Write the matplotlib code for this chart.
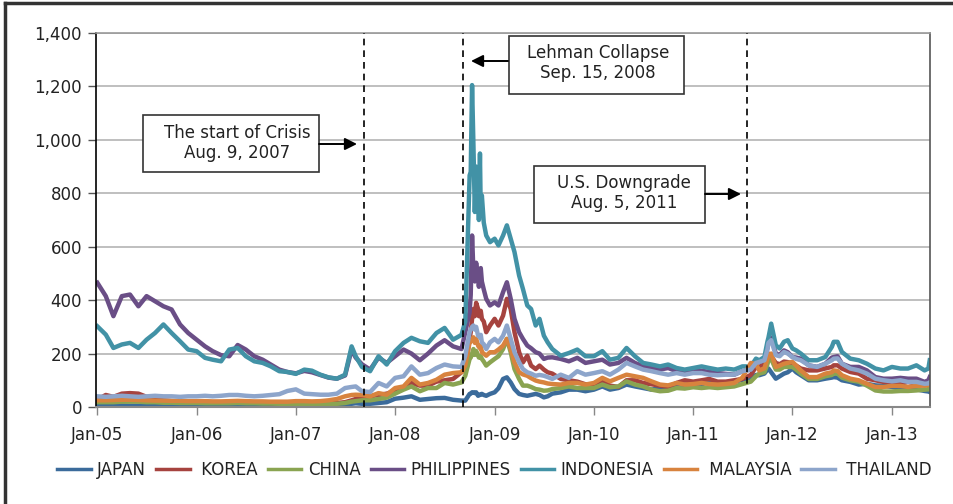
import pandas as pd
import matplotlib
matplotlib.use("Agg")
import matplotlib.pyplot as plt
import matplotlib.dates as mdates
from matplotlib.lines import Line2D
from matplotlib.patches import Rectangle
from matplotlib.ticker import FuncFormatter

plt.rcParams["font.family"] = "DejaVu Sans"

dates = pd.to_datetime([
    # 2005
    "2005-01-01", "2005-02-01", "2005-03-01", "2005-04-01", "2005-05-01", "2005-06-01",
    "2005-07-01", "2005-08-01", "2005-09-01", "2005-10-01", "2005-11-01", "2005-12-01",
    # 2006
    "2006-01-01", "2006-02-01", "2006-03-01", "2006-04-01", "2006-05-01", "2006-06-01",
    "2006-07-01", "2006-08-01", "2006-09-01", "2006-10-01", "2006-11-01", "2006-12-01",
    # 2007
    "2007-01-01", "2007-02-01", "2007-03-01", "2007-04-01", "2007-05-01", "2007-06-01",
    "2007-07-01", "2007-07-25", "2007-08-09", "2007-09-01", "2007-10-01", "2007-11-01",
    "2007-12-01",
    # 2008
    "2008-01-01", "2008-02-01", "2008-03-01", "2008-04-01", "2008-05-01", "2008-06-01",
    "2008-07-01", "2008-08-01", "2008-09-01", "2008-09-15", "2008-10-01", "2008-10-05",
    "2008-10-10", "2008-10-15", "2008-10-20", "2008-10-25", "2008-11-01", "2008-11-04",
    "2008-11-08", "2008-11-11", "2008-11-15", "2008-11-22", "2008-12-01", "2008-12-15",
    # 2009
    "2009-01-01", "2009-01-15", "2009-02-01", "2009-02-15", "2009-03-01", "2009-03-15",
    "2009-04-01", "2009-04-15", "2009-05-01", "2009-05-15", "2009-06-01", "2009-06-15",
    "2009-07-01", "2009-07-15", "2009-08-01", "2009-09-01", "2009-10-01", "2009-11-01",
    "2009-12-01",
    # 2010
    "2010-01-01", "2010-02-01", "2010-03-01", "2010-04-01", "2010-05-01", "2010-06-01",
    "2010-07-01", "2010-08-01", "2010-09-01", "2010-10-01", "2010-11-01", "2010-12-01",
    # 2011
    "2011-01-01", "2011-02-01", "2011-03-01", "2011-04-01", "2011-05-01", "2011-06-01",
    "2011-07-01", "2011-08-01", "2011-08-20", "2011-09-01", "2011-09-20", "2011-10-01",
    "2011-10-05", "2011-10-15", "2011-11-01", "2011-11-15", "2011-12-01", "2011-12-15",
    # 2012
    "2012-01-01", "2012-01-15", "2012-02-01", "2012-03-01", "2012-04-01", "2012-05-01",
    "2012-05-25", "2012-06-01", "2012-06-15", "2012-07-01", "2012-08-01", "2012-09-01",
    "2012-10-01", "2012-11-01", "2012-12-01",
    # 2013
    "2013-01-01", "2013-02-01", "2013-03-01", "2013-04-01", "2013-05-01", "2013-05-15",
    "2013-05-20",
])

japan = [
    5, 5, 6, 6, 5, 5, 5, 5, 5, 5, 4, 4,
    4, 4, 4, 5, 5, 4, 4, 4, 4, 4, 4, 4,
    4, 4, 5, 5, 5, 5, 8, 12, 14, 12, 12, 15, 18,
    31, 35, 40, 27, 30, 33, 34, 27, 24, 24, 49, 50, 55, 55, 52, 55, 42, 45, 45, 48, 49, 45, 42, 49,
    55, 70, 105, 111, 92, 67, 49, 45, 42, 45, 49, 45, 36, 40, 50, 55, 65, 65, 59,
    65, 77, 65, 71, 84, 77, 71, 65, 71, 71, 77, 84,
    81, 84, 96, 90, 90, 94, 102, 109, 120, 119, 125, 140, 144, 130, 106, 115, 125, 130,
    144, 130, 119, 100, 100, 106, 110, 112, 110, 100, 94, 84, 87, 81, 79,
    75, 69, 71, 66, 60, 58, 56,
]
korea = [
    28, 45, 38, 50, 52, 50, 38, 30, 25, 22, 20, 20,
    18, 18, 17, 16, 16, 18, 17, 16, 16, 15, 15, 15,
    15, 15, 15, 15, 15, 15, 18, 25, 30, 35, 40, 45, 50,
    60, 70, 90, 80, 80, 95, 100, 105, 130, 142, 255, 280, 330, 367, 340, 390, 367, 340, 355, 360, 330, 320, 280, 305,
    330, 305, 342, 405, 367, 280, 205, 167, 192, 155, 142, 155, 140, 130, 125, 105, 100, 95, 85,
    85, 95, 80, 75, 100, 100, 90, 85, 80, 75, 90, 100,
    95, 100, 105, 95, 95, 100, 105, 120, 150, 150, 160, 190, 200, 190, 165, 160, 170, 168,
    162, 155, 144, 137, 137, 144, 150, 156, 156, 144, 131, 125, 106, 100, 94,
    94, 87, 94, 87, 81, 82, 85,
]
china = [
    18, 18, 18, 20, 20, 20, 18, 18, 16, 16, 15, 15,
    15, 14, 14, 14, 14, 15, 14, 14, 13, 13, 12, 12,
    12, 12, 12, 12, 12, 12, 15, 20, 22, 25, 25, 30, 35,
    50, 65, 77, 59, 71, 71, 90, 84, 92, 117, 180, 185, 200, 217, 195, 210, 192, 185, 185, 190, 180, 170, 155, 167,
    180, 190, 217, 255, 205, 142, 105, 80, 80, 75, 67, 65, 61, 62, 67, 71, 77, 71, 71,
    71, 84, 74, 77, 96, 84, 77, 65, 59, 61, 71, 69,
    74, 71, 74, 71, 74, 77, 86, 95, 115, 125, 130, 160, 175, 180, 140, 140, 150, 150,
    150, 140, 125, 105, 105, 115, 120, 125, 125, 110, 100, 95, 80, 62, 58,
    58, 60, 60, 62, 65, 66, 70,
]
philippines = [
    465, 415, 340, 415, 421, 377, 415, 396, 377, 365, 309, 277,
    252, 227, 209, 194, 190, 232, 215, 190, 177, 159, 140, 131,
    126, 135, 130, 120, 110, 106, 118, 215, 185, 160, 140, 185, 165,
    190, 215, 200, 175, 200, 230, 250, 227, 217, 280, 355, 420, 642, 505, 470, 540, 480, 450, 492, 520, 470, 440, 405, 380,
    392, 380, 430, 467, 405, 330, 280, 255, 230, 220, 205, 200, 180, 185, 186, 180, 171, 184, 165,
    171, 177, 159, 165, 184, 165, 152, 146, 140, 146, 134, 127,
    134, 136, 131, 127, 124, 121, 134, 140, 165, 169, 175, 220, 250, 260, 200, 195, 212, 205,
    187, 185, 181, 156, 150, 162, 185, 187, 190, 162, 150, 150, 137, 112, 106,
    106, 109, 106, 106, 94, 100, 112,
]
indonesia = [
    302, 271, 221, 234, 240, 221, 252, 277, 309, 277, 246, 215,
    209, 184, 177, 171, 215, 221, 190, 171, 165, 152, 134, 131,
    124, 140, 136, 121, 111, 106, 121, 227, 190, 150, 134, 190, 159,
    209, 240, 259, 246, 240, 277, 296, 252, 270, 320, 867, 880, 1205, 980, 730, 900, 855, 700, 949, 720, 792, 690, 642, 617,
    630, 605, 642, 680, 630, 580, 492, 442, 380, 367, 305, 330, 267, 242, 217, 192, 202, 215, 190,
    190, 209, 177, 184, 221, 190, 165, 159, 152, 159, 146, 140,
    146, 152, 146, 140, 144, 140, 152, 152, 181, 175, 187, 244, 260, 312, 231, 219, 244, 250,
    219, 212, 200, 175, 175, 187, 225, 244, 244, 206, 181, 175, 162, 144, 137,
    150, 144, 144, 156, 137, 144, 175,
]
malaysia = [
    25, 25, 26, 27, 27, 26, 25, 24, 24, 23, 23, 22,
    22, 22, 21, 21, 22, 23, 22, 21, 21, 20, 20, 20,
    22, 22, 21, 22, 25, 30, 40, 45, 46, 45, 40, 52, 46,
    71, 77, 109, 84, 90, 102, 121, 127, 130, 155, 242, 245, 250, 261, 240, 255, 230, 225, 220, 230, 205, 200, 192, 205,
    205, 215, 230, 255, 217, 167, 130, 122, 117, 108, 99, 95, 92, 88, 86, 84, 90, 90, 84,
    90, 109, 96, 109, 121, 115, 109, 96, 84, 81, 90, 84,
    86, 90, 86, 84, 86, 90, 110, 165, 160, 137, 145, 180, 195, 200, 150, 155, 162, 165,
    169, 155, 137, 112, 112, 125, 130, 137, 135, 119, 106, 100, 87, 75, 75,
    79, 79, 75, 79, 80, 82, 87,
]
thailand = [
    40, 38, 40, 42, 40, 38, 40, 42, 40, 40, 38, 40,
    40, 42, 40, 42, 45, 45, 42, 40, 42, 45, 48, 60,
    66, 50, 48, 46, 46, 50, 71, 75, 77, 59, 56, 90, 77,
    109, 115, 152, 121, 127, 146, 159, 152, 150, 192, 280, 290, 300, 305, 290, 300, 267, 265, 260, 270, 242, 235, 217, 242,
    255, 242, 267, 305, 255, 205, 167, 142, 130, 125, 117, 120, 117, 112, 105, 121, 109, 134, 121,
    127, 134, 121, 140, 165, 152, 140, 134, 127, 121, 127, 121,
    127, 127, 121, 119, 121, 121, 134, 140, 165, 169, 175, 215, 240, 250, 194, 190, 206, 200,
    187, 180, 175, 156, 150, 162, 175, 181, 182, 162, 144, 137, 125, 106, 100,
    96, 100, 94, 94, 87, 88, 92,
]

names = ["JAPAN", " KOREA", "CHINA", "PHILIPPINES", "INDONESIA", " MALAYSIA", " THAILAND"]
colors = ["#3b6b9b", "#a6433f", "#8aa451", "#6a4e86", "#4292a6", "#d8833e", "#8da5cb"]
values = [japan, korea, china, philippines, indonesia, malaysia, thailand]
for v in values:
    assert len(v) == len(dates), (len(v), len(dates))

event_dates = ["2007-09-10", "2008-09-06", "2011-07-19"]

W, H = 954, 504
fig = plt.figure(figsize=(W / 100, H / 100), dpi=100)
ax = fig.add_axes([96 / W, 1 - 407 / H, 834 / W, 374 / H])

for name, vals, col in zip(names, values, colors):
    ax.plot(dates, vals, color=col, lw=3.2, label=name, solid_joinstyle="round")

for d in event_dates:
    ax.axvline(pd.Timestamp(d), color="black", ls=(0, (4, 3)), lw=1.2, zorder=4)

ax.set_ylim(0, 1400)
ax.set_xlim(pd.Timestamp("2004-12-27"), pd.Timestamp("2013-05-21"))
ax.set_yticks(range(0, 1401, 200))
ax.yaxis.set_major_formatter(FuncFormatter(lambda v, p: f"{int(v):,}"))
ax.set_xticks(pd.to_datetime(["2005-01-01", "2006-01-01", "2007-01-01", "2008-01-01", "2009-01-01",
                              "2010-01-01", "2011-01-01", "2012-01-01", "2013-01-01"]))
ax.xaxis.set_major_formatter(mdates.DateFormatter("%b-%y"))
ax.grid(axis="y", color="#b4b4b4", lw=1.2)
ax.set_axisbelow(True)

ax.spines["left"].set_color("black")
ax.spines["left"].set_linewidth(1.2)
ax.spines["bottom"].set_color("#888888")
ax.spines["bottom"].set_linewidth(1.5)
ax.spines["top"].set_color("#999999")
ax.spines["top"].set_linewidth(1.2)
ax.spines["right"].set_color("#555555")
ax.spines["right"].set_linewidth(1.2)

ax.tick_params(axis="y", length=6, width=1, color="#555555", pad=4, labelsize=12, labelcolor="#222222")
ax.tick_params(axis="x", length=6, width=1, color="#888888", pad=8, labelsize=12, labelcolor="#222222")


def ax_xy(px, py):
    return ((px - 96) / 834, (407 - py) / 374)


# annotation boxes: (x0, y0, x1, y1) in pixels, text centre, text
boxes = [
    ((143, 115, 319, 172), (237, 143), "The start of Crisis\nAug. 9, 2007"),
    ((509, 36, 684, 94), (598, 63), "Lehman Collapse\nSep. 15, 2008"),
    ((534, 166, 705, 223), (624, 193), "U.S. Downgrade\nAug. 5, 2011"),
]
for (x0, y0, x1, y1), (tx, ty), txt in boxes:
    bx, by = ax_xy(x0, y1)
    ax.add_patch(Rectangle((bx, by), (x1 - x0) / 834, (y1 - y0) / 374, transform=ax.transAxes,
                           fc="white", ec="#333333", lw=1.2, zorder=6, clip_on=False))
    ax.text(*ax_xy(tx, ty), txt, transform=ax.transAxes, ha="center", va="center",
            fontsize=12, linespacing=1.1, color="#222222", zorder=7)

arrows = [((319, 144), (357, 144)), ((508, 61), (471, 61)), ((705, 194), (741, 194))]
for start, end in arrows:
    ax.annotate("", xy=ax_xy(*end), xytext=ax_xy(*start), xycoords="axes fraction",
                textcoords="axes fraction", zorder=7,
                arrowprops=dict(arrowstyle="-|>", color="black", lw=1.4, mutation_scale=18,
                                shrinkA=0, shrinkB=0))

leg = ax.legend(loc="center", bbox_to_anchor=(494.5 / W, 1 - 470 / H), bbox_transform=fig.transFigure,
                ncol=7, frameon=False, fontsize=12, handlelength=2.0, handletextpad=0.4,
                columnspacing=0.6, borderaxespad=0)
for line in leg.get_lines():
    line.set_linewidth(2.5)
for t in leg.get_texts():
    t.set_color("#222222")

# outer frame
fig.add_artist(Line2D([5 / W, 5 / W], [0, 1 - 3 / H], transform=fig.transFigure, color="#333333", lw=2.5))
fig.add_artist(Line2D([5 / W, 1], [1 - 3 / H, 1 - 3 / H], transform=fig.transFigure, color="#333333", lw=2.5))

fig.savefig("out.png", dpi=100)
